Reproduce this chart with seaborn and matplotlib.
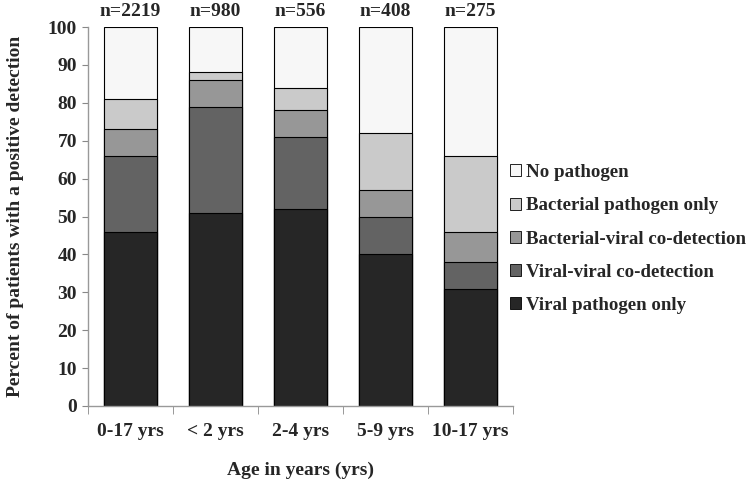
import matplotlib
matplotlib.use("Agg")
import matplotlib.pyplot as plt
import seaborn as sns
import numpy as np
import pandas as pd
from matplotlib.patches import Patch

sns.set_style("white")
plt.rcParams['font.family'] = ['Liberation Serif', 'DejaVu Serif']
plt.rcParams['font.weight'] = 'bold'

categories = ["0-17 yrs", "< 2 yrs", "2-4 yrs", "5-9 yrs", "10-17 yrs"]
n_labels = ["n=2219", "n=980", "n=556", "n=408", "n=275"]
series_names = ["Viral pathogen only", "Viral-viral co-detection",
                "Bacterial-viral co-detection", "Bacterial pathogen only", "No pathogen"]
viral_only = [46, 51, 52, 40, 31]
viral_viral = [20, 28, 19, 10, 7]
bact_viral = [7, 7, 7, 7, 8]
bacterial_only = [8, 2, 6, 15, 20]
no_pathogen = [19, 12, 16, 28, 34]
colors = ["#262626", "#636363", "#979797", "#cacaca", "#f7f7f7"]

series = [viral_only, viral_viral, bact_viral, bacterial_only, no_pathogen]
cum = np.cumsum(np.array(series), axis=0)

FS = 14
fig = plt.figure(figsize=(7.5, 4.83), dpi=100)
ax = fig.add_axes([88/750, 1-406/483, (513-88)/750, (406-27)/483])

for i in range(len(series) - 1, -1, -1):
    df = pd.DataFrame({"cat": categories, "val": cum[i]})
    sns.barplot(data=df, x="cat", y="val", color=colors[i], width=0.62,
                edgecolor="black", linewidth=0.8, saturation=1, ax=ax, zorder=2)

ax.set_ylim(0, 100)
ax.set_xlim(-0.5, len(categories) - 0.5)
ax.set_yticks(range(0, 101, 10))
ax.tick_params(axis='y', labelsize=FS, length=4, color="#888888", left=True, pad=4)
ax.set_xticks(range(len(categories)))
ax.set_xticklabels(categories)
ax.tick_params(axis='x', which='major', length=0, labelsize=FS, pad=12)
ax.set_xticks(np.arange(-0.5, len(categories), 1.0), minor=True)
ax.tick_params(axis='x', which='minor', length=6, color="#888888", bottom=True)
for lab in ax.get_xticklabels() + ax.get_yticklabels():
    lab.set_fontweight('bold')

for s in ["top", "right"]:
    ax.spines[s].set_visible(False)
for s in ["left", "bottom"]:
    ax.spines[s].set_color("#999999")
    ax.spines[s].set_linewidth(1)

ax.set_xlabel("Age in years (yrs)", fontsize=FS, fontweight='bold', labelpad=16)
ax.set_ylabel("Percent of patients with a positive detection", fontsize=FS,
              fontweight='bold', labelpad=17)

for i, t in enumerate(n_labels):
    ax.annotate(t, xy=(i, 100), xytext=(0, 5), textcoords="offset points",
                ha="center", va="bottom", fontsize=FS, fontweight='bold',
                annotation_clip=False)

handles = [Patch(facecolor=colors[i], edgecolor="black", linewidth=0.6, label=series_names[i])
           for i in range(len(series) - 1, -1, -1)]
leg = fig.legend(handles=handles, loc="center left", bbox_to_anchor=(510/750, 1-239/483),
                 frameon=False, handlelength=0.6, handleheight=0.6,
                 handletextpad=0.25, labelspacing=0.86, borderpad=0, borderaxespad=0,
                 prop={'weight': 'bold', 'size': 13.6})

fig.savefig("out.png", dpi=100)
